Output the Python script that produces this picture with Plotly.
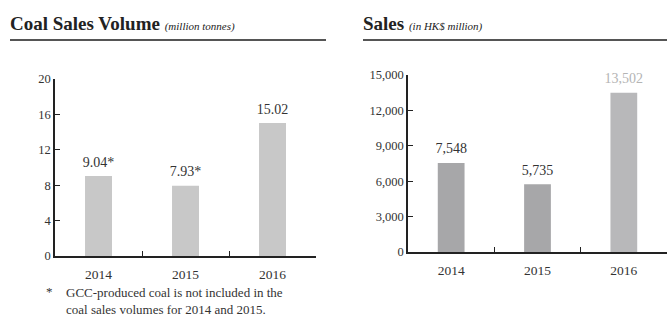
import plotly.graph_objects as go

years = ["2014", "2015", "2016"]
coal_volume = [9.04, 7.93, 15.02]
coal_labels = ["9.04*", "7.93*", "15.02"]
sales = [7548, 5735, 13502]
sales_labels = ["7,548", "5,735", "13,502"]
coal_ticks = [0, 4, 8, 12, 16, 20]
sales_ticks = [0, 3000, 6000, 9000, 12000, 15000]
sales_tick_text = ["0", "3,000", "6,000", "9,000", "12,000", "15,000"]

W, H = 667, 317
SERIF = "Liberation Serif"

fig = go.Figure()

fig.add_trace(go.Bar(
    x=years, y=coal_volume,
    marker=dict(color="#c8c8c8", line=dict(width=0)),
    width=0.31, xaxis="x", yaxis="y", hoverinfo="skip",
))
fig.add_trace(go.Scatter(
    x=years, y=coal_volume, mode="markers+text", text=coal_labels, textposition="top center",
    marker=dict(size=8, opacity=0),
    textfont=dict(family=SERIF, size=14, color="#333333"),
    cliponaxis=False, xaxis="x", yaxis="y", hoverinfo="skip",
))
fig.add_trace(go.Bar(
    x=years, y=sales,
    marker=dict(color=["#a7a7a9", "#a7a7a9", "#b8b8ba"], line=dict(width=0)),
    width=0.31, xaxis="x2", yaxis="y2", hoverinfo="skip",
))
fig.add_trace(go.Scatter(
    x=years, y=sales, mode="markers+text", text=sales_labels, textposition="top center",
    marker=dict(size=8, opacity=0),
    textfont=dict(family=SERIF, size=14, color=["#333333", "#333333", "#b4b4b4"]),
    cliponaxis=False, xaxis="x2", yaxis="y2", hoverinfo="skip",
))

def px(x):
    return x / W

def py(y):
    return 1 - y / H

axis_common = dict(
    showgrid=False, zeroline=False, showline=True, linecolor="#222222", linewidth=1.5,
    ticks="inside", ticklen=5, tickwidth=1.2, tickcolor="#222222", automargin=False,
    tickfont=dict(family=SERIF, size=12.5, color="#333333"),
)
xfont = dict(family=SERIF, size=13.5, color="#333333")

fig.update_layout(
    width=W, height=H, margin=dict(l=0, r=0, t=0, b=0),
    paper_bgcolor="white", plot_bgcolor="white", showlegend=False,
    font=dict(family=SERIF),
    xaxis=dict(domain=[px(55), px(316)], anchor="y", type="category",
               tickson="boundaries", ticklabelstandoff=5, **{**axis_common, "tickfont": xfont}),
    yaxis=dict(domain=[py(256), py(79)], anchor="x", range=[0, 20],
               tickvals=coal_ticks, **axis_common),
    xaxis2=dict(domain=[px(408), 1.0], anchor="y2", type="category",
                tickson="boundaries", ticklabelstandoff=5, **{**axis_common, "tickfont": xfont}),
    yaxis2=dict(domain=[py(252), py(75)], anchor="x2", range=[0, 15000],
                tickvals=sales_ticks, ticktext=sales_tick_text, **axis_common),
)

# Titles
fig.add_annotation(
    x=px(8), y=py(36), xref="paper", yref="paper", xanchor="left", yanchor="bottom",
    showarrow=False,
    text="<b>Coal Sales Volume</b> <i><span style='font-size:11px'>(million tonnes)</span></i>",
    font=dict(family=SERIF, size=19, color="#222222"),
)
fig.add_annotation(
    x=px(361), y=py(36), xref="paper", yref="paper", xanchor="left", yanchor="bottom",
    showarrow=False,
    text="<b>Sales</b> <i><span style='font-size:11px'>(in HK$ million)</span></i>",
    font=dict(family=SERIF, size=19, color="#222222"),
)
fig.add_shape(type="line", xref="paper", yref="paper", x0=px(10), x1=px(326),
              y0=py(40), y1=py(40), line=dict(color="#555555", width=2))
fig.add_shape(type="line", xref="paper", yref="paper", x0=px(363), x1=1.0,
              y0=py(40), y1=py(40), line=dict(color="#555555", width=2))

# Footnote
fig.add_annotation(
    x=px(44), y=py(291), xref="paper", yref="paper", xanchor="left", yanchor="middle",
    showarrow=False, text="*", font=dict(family=SERIF, size=13, color="#333333"),
)
fig.add_annotation(
    x=px(64), y=py(283), xref="paper", yref="paper", xanchor="left", yanchor="top",
    showarrow=False, align="left",
    text="GCC-produced coal is not included in the<br>coal sales volumes for 2014 and 2015.",
    font=dict(family=SERIF, size=13, color="#333333"),
)

fig.write_html(
    "out.html",
    config={"displayModeBar": False},
    post_script="document.body.style.margin='0';document.body.style.overflow='hidden';",
)
